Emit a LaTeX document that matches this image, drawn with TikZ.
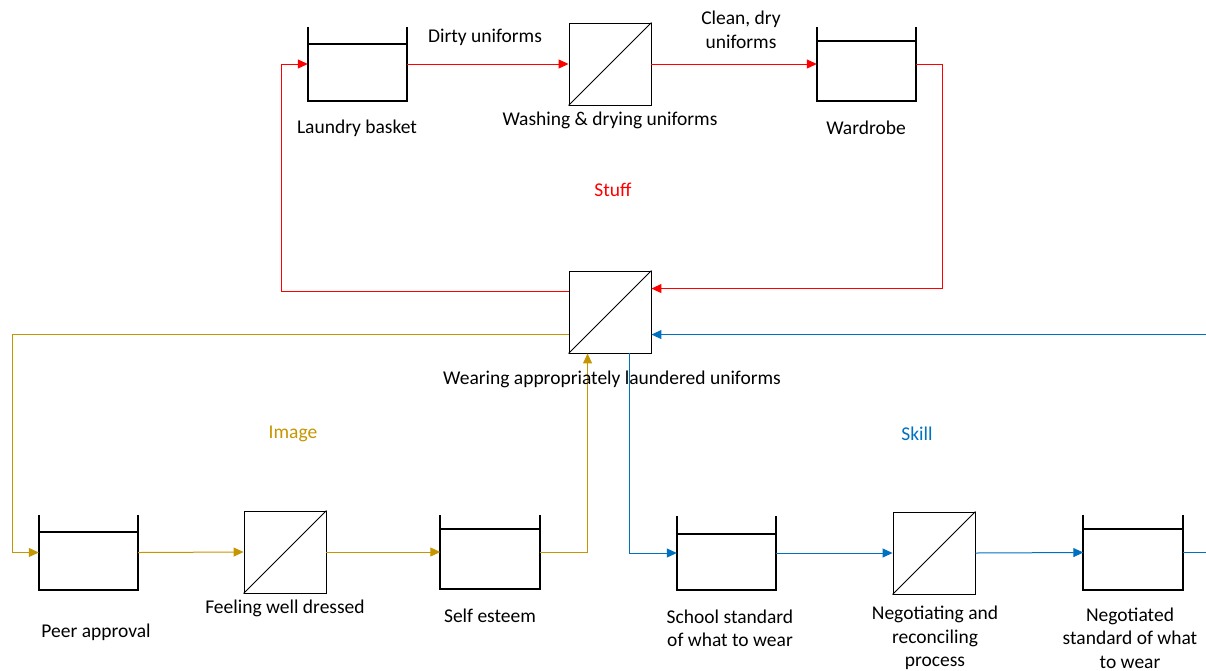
\documentclass[tikz,border=0pt]{standalone}
\usepackage{fontspec}
\setmainfont{Carlito}
\usetikzlibrary{arrows.meta,calc}
\definecolor{cred}{RGB}{255,0,0}
\definecolor{cgold}{RGB}{197,150,0}
\definecolor{cblue}{RGB}{0,112,192}
\newcommand\tankdraw[2]{%
  \draw[tankline] (#1.north west) -- (#1.south west) -- (#1.south east) -- (#1.north east);
  \draw[tankline] ($(#1.north west)+(0,#2)$) -- ($(#1.north east)+(0,#2)$);}
\newcommand\procdiag[1]{\draw[line width=0.9pt] (#1.south west) -- (#1.north east);}
\begin{document}
\begin{tikzpicture}[x=1pt,y=-1pt, font=\fontsize{19.5}{23.5}\selectfont,
  tankbox/.style={rectangle, minimum width=99pt, minimum height=74pt, inner sep=0pt},
  procbox/.style={draw, line width=0.9pt, rectangle, minimum size=82pt, inner sep=0pt, fill=white},
  tankline/.style={line width=1.8pt},
  flow/.style={line width=1pt, -{Triangle[length=10pt,width=9pt]}},
  lbl/.style={align=center, inner sep=0pt},
]
\useasboundingbox (0,0) rectangle (1206,670);

% tanks
\node[tankbox] (basket) at (357.5,64) {};
\node[tankbox] (wardrobe) at (866.5,64) {};
\node[tankbox] (peer) at (88.5,552.5) {};
\node[tankbox] (selfe) at (490,552) {};
\node[tankbox] (school) at (726.5,553) {};
\node[tankbox] (negd) at (1133,552.5) {};
\tankdraw{basket}{17}
\tankdraw{wardrobe}{14}
\tankdraw{peer}{17}
\tankdraw{selfe}{14}
\tankdraw{school}{18}
\tankdraw{negd}{14}

% processes
\node[procbox] (wash) at (610,64) {};
\node[procbox] (main) at (610,312) {};
\node[procbox] (feel) at (285,552) {};
\node[procbox] (nego) at (934,553) {};
\procdiag{wash}
\procdiag{main}
\procdiag{feel}
\procdiag{nego}

% red loop
\draw[flow,cred] (basket.east) -- (wash.west);
\draw[flow,cred] (wash.east) -- (wardrobe.west);
\draw[flow,cred] (wardrobe.east) -- ++(26,0) |- ($(main.north east)+(0,18)$);
\draw[flow,cred] ($(main.north west)+(0,21)$) -- ++(-287,0) |- (basket.west);

% gold loop
\draw[flow,cgold] ($(main.north west)+(0,64)$) -- ++(-556,0) |- (peer.west);
\draw[flow,cgold] (peer.east) -- (feel.west);
\draw[flow,cgold] (feel.east) -- (selfe.west);
\draw[flow,cgold] (selfe.east) -| ($(main.south west)+(19,0)$);

% blue loop
\draw[flow,cblue] ($(main.south west)+(61,0)$) |- (school.west);
\draw[flow,cblue] (school.east) -- (nego.west);
\draw[flow,cblue] (nego.east) -- (negd.west);
\draw[flow,cblue] (negd.east) -- ++(30,0) |- ($(main.north east)+(0,64)$);

% labels
\node[lbl] (tdirty) at (485,37) {Dirty uniforms};
\node[lbl] (tclean) at (741,30) {Clean, dry\\uniforms};
\node[lbl] (tbasket) at (357,128) {Laundry basket};
\node[lbl] (twash) at (610,120) {Washing \& drying uniforms};
\node[lbl] (tward) at (866,128) {Wardrobe};
\node[lbl,text=cred] (tstuff) at (613,190) {Stuff};
\node[lbl] (tmain) at (612,379) {Wearing appropriately laundered uniforms};
\node[lbl,text=cgold] (timage) at (293,434) {Image};
\node[lbl,text=cblue] (tskill) at (917,434) {Skill};
\node[lbl] (tpeer) at (96,632) {Peer approval};
\node[lbl] (tfeel) at (285,608) {Feeling well dressed};
\node[lbl] (tself) at (490,616) {Self esteem};
\node[lbl] (tschool) at (730,628.5) {School standard\\of what to wear};
\node[lbl] (tnego) at (935,638) {Negotiating and\\reconciling\\process};
\node[lbl] (tnegd) at (1130,638) {Negotiated\\standard of what\\to wear};
\end{tikzpicture}
\end{document}
